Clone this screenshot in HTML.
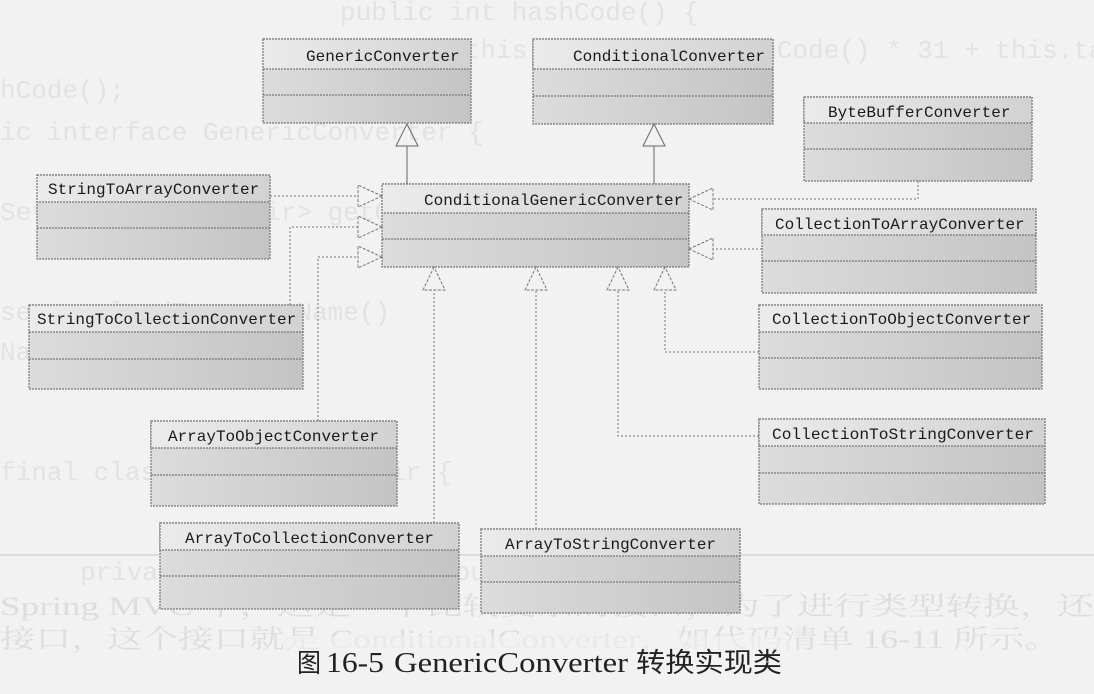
<!DOCTYPE html>
<html><head><meta charset="utf-8"><style>
html,body{margin:0;padding:0;background:#f2f2f2;width:1094px;height:694px;overflow:hidden}
svg{display:block}
.bt{font-family:"Liberation Mono","Noto Sans CJK SC",monospace;font-size:26px;fill:#e2e2e2}
.bc{font-family:"Liberation Serif","Noto Serif CJK SC",serif;font-size:26px;fill:#dddddd}
.t{font-family:"Liberation Mono",monospace;font-size:16px;fill:#1a1a1a}
</style></head><body>
<svg width="1094" height="694" viewBox="0 0 1094 694" xmlns="http://www.w3.org/2000/svg">
<defs>
<linearGradient id="g" x1="0" y1="0" x2="1" y2="0"><stop offset="0" stop-color="#dcdcdc"/><stop offset="1" stop-color="#c4c4c4"/></linearGradient>
<linearGradient id="h" x1="0" y1="0" x2="1" y2="0"><stop offset="0" stop-color="#ebebeb"/><stop offset="1" stop-color="#d2d2d2"/></linearGradient>
</defs>
<!-- bleed-through text -->
<text class="bt" x="340" y="20">public int hashCode() {</text>
<text class="bt" x="340" y="58">return (this.sourceType.hashCode() * 31 + this.tar</text>
<text class="bt" x="0" y="98">hCode();</text>
<text class="bt" x="0" y="140">ic interface GenericConverter {</text>
<text class="bt" x="0" y="220">Set&lt;ConvertiblePair&gt; getConvertibleTypes();</text>
<text class="bt" x="0" y="320">se         resolvedType.getName()</text>
<text class="bt" x="0" y="360">Name</text>
<text class="bt" x="0" y="480">final class ConvertiblePair {</text>
<text class="bt" x="80" y="580">private final Class&lt;?&gt; sourceType;</text>
<text class="bc" x="0" y="615" textLength="1094" lengthAdjust="spacingAndGlyphs">Spring MVC 中，这是一个比较复杂的接口，为了进行类型转换，还</text>
<text class="bc" x="0" y="648" textLength="1060" lengthAdjust="spacingAndGlyphs">接口，这个接口就是 ConditionalConverter，如代码清单 16-11 所示。</text>
<line x1="0" y1="555" x2="1094" y2="555" stroke="#dcdcdc" stroke-width="2"/>

<g stroke="#777" stroke-width="1.2" stroke-dasharray="2,1">
<rect x="263" y="39" width="208" height="84" fill="url(#g)"/>
<rect x="263" y="39" width="208" height="30" fill="url(#h)"/>
<line x1="263" y1="95" x2="471" y2="95"/>

<rect x="533" y="39" width="240" height="85" fill="url(#g)"/>
<rect x="533" y="39" width="240" height="30" fill="url(#h)"/>
<line x1="533" y1="96" x2="773" y2="96"/>

<rect x="804" y="97" width="228" height="84" fill="url(#g)"/>
<rect x="804" y="97" width="228" height="26" fill="url(#h)"/>
<line x1="804" y1="149" x2="1032" y2="149"/>

<rect x="382" y="184" width="307" height="83" fill="url(#g)"/>
<rect x="382" y="184" width="307" height="29" fill="url(#h)"/>
<line x1="382" y1="239" x2="689" y2="239"/>

<rect x="37" y="175" width="233" height="84" fill="url(#g)"/>
<rect x="37" y="175" width="233" height="27" fill="url(#h)"/>
<line x1="37" y1="228" x2="270" y2="228"/>

<rect x="29" y="305" width="274" height="84" fill="url(#g)"/>
<rect x="29" y="305" width="274" height="27" fill="url(#h)"/>
<line x1="29" y1="359" x2="303" y2="359"/>

<rect x="762" y="209" width="274" height="84" fill="url(#g)"/>
<rect x="762" y="209" width="274" height="26" fill="url(#h)"/>
<line x1="762" y1="261" x2="1036" y2="261"/>

<rect x="759" y="305" width="283" height="84" fill="url(#g)"/>
<rect x="759" y="305" width="283" height="27" fill="url(#h)"/>
<line x1="759" y1="358" x2="1042" y2="358"/>

<rect x="759" y="419" width="286" height="85" fill="url(#g)"/>
<rect x="759" y="419" width="286" height="27" fill="url(#h)"/>
<line x1="759" y1="473" x2="1045" y2="473"/>

<rect x="151" y="421" width="246" height="85" fill="url(#g)"/>
<rect x="151" y="421" width="246" height="27" fill="url(#h)"/>
<line x1="151" y1="475" x2="397" y2="475"/>

<rect x="160" y="523" width="299" height="86" fill="url(#g)"/>
<rect x="160" y="523" width="299" height="27" fill="url(#h)"/>
<line x1="160" y1="576" x2="459" y2="576"/>

<rect x="481" y="529" width="259" height="84" fill="url(#g)"/>
<rect x="481" y="529" width="259" height="27" fill="url(#h)"/>
<line x1="481" y1="582" x2="740" y2="582"/>
</g>

<!-- labels -->
<text class="t" x="306" y="61">GenericConverter</text>
<text class="t" x="573" y="61">ConditionalConverter</text>
<text class="t" x="828" y="117">ByteBufferConverter</text>
<text class="t" x="424" y="205">ConditionalGenericConverter</text>
<text class="t" x="48" y="194">StringToArrayConverter</text>
<text class="t" x="37" y="324">StringToCollectionConverter</text>
<text class="t" x="775" y="229">CollectionToArrayConverter</text>
<text class="t" x="772" y="324">CollectionToObjectConverter</text>
<text class="t" x="772" y="439" textLength="262" lengthAdjust="spacingAndGlyphs">CollectionToStringConverter</text>
<text class="t" x="168" y="441" textLength="211" lengthAdjust="spacingAndGlyphs">ArrayToObjectConverter</text>
<text class="t" x="185" y="543" textLength="249" lengthAdjust="spacingAndGlyphs">ArrayToCollectionConverter</text>
<text class="t" x="505" y="549" textLength="211" lengthAdjust="spacingAndGlyphs">ArrayToStringConverter</text>

<!-- connectors -->
<g fill="none" stroke="#666" stroke-width="1">
<line x1="407" y1="146" x2="407" y2="184"/>
<line x1="654" y1="146" x2="654" y2="184"/>
</g>
<g fill="none" stroke="#777" stroke-width="1" stroke-dasharray="2,2">
<polyline points="270,196 358,196"/>
<polyline points="290,305 290,227 358,227"/>
<polyline points="318,421 318,257 358,257"/>
<polyline points="434,523 434,290"/>
<polyline points="536,529 536,290"/>
<polyline points="759,436 618,436 618,290"/>
<polyline points="759,352 665,352 665,290"/>
<polyline points="918,181 918,199 713,199"/>
<polyline points="762,249 713,249"/>
</g>
<g fill="none" stroke="#666" stroke-width="1">
<polygon points="407,124 396,146 418,146"/>
<polygon points="654,124 643,146 665,146"/>
</g>
<g fill="none" stroke="#777" stroke-width="1" stroke-dasharray="3,1.5">
<polygon points="382,196 358,185 358,207"/>
<polygon points="382,227 358,216 358,238"/>
<polygon points="382,257 358,246 358,268"/>
<polygon points="434,267 423,290 445,290"/>
<polygon points="536,267 525,290 547,290"/>
<polygon points="618,267 607,290 629,290"/>
<polygon points="665,267 654,290 676,290"/>
<polygon points="689,199 713,188 713,210"/>
<polygon points="689,249 713,238 713,260"/>
</g>

<!-- caption -->
<rect x="290" y="636" width="500" height="40" fill="#f2f2f2" opacity="0.6"/>
<text x="297" y="672" font-family="'Noto Sans CJK SC',sans-serif" font-size="26" fill="#222" textLength="24" lengthAdjust="spacingAndGlyphs">图</text>
<text x="326" y="672" font-family="'Liberation Serif',serif" font-size="28" fill="#222" textLength="58" lengthAdjust="spacingAndGlyphs">16-5</text>
<text x="394" y="672" font-family="'Liberation Serif',serif" font-size="28" fill="#222" textLength="234" lengthAdjust="spacingAndGlyphs">GenericConverter</text>
<text x="636" y="672" font-family="'Noto Sans CJK SC',sans-serif" font-size="27" fill="#222" textLength="146" lengthAdjust="spacingAndGlyphs">转换实现类</text>
</svg>
</body></html>
